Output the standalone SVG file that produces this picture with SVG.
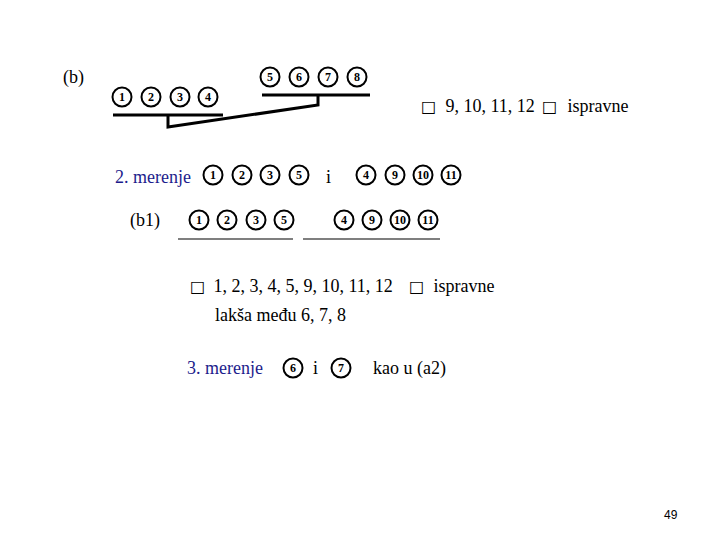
<svg xmlns="http://www.w3.org/2000/svg" width="720" height="540" viewBox="0 0 720 540">
<style>
text{font-family:"Liberation Serif","Times New Roman",serif;fill:#000}
.t{font-size:18px}
.blue{fill:#1c1c8c}
.n{font-size:12px;font-weight:bold;text-anchor:middle}
.c{fill:#fff;stroke:#000;stroke-width:2}
.sym{font-family:"DejaVu Sans","Liberation Serif",sans-serif;font-size:16px}
.thick{stroke:#000;stroke-width:3;fill:none}
.thin{stroke:#000;stroke-width:1.2;fill:none}
.pg{font-family:"Liberation Sans",Arial,sans-serif;font-size:12px}
</style>
<defs>
<circle id="ball" r="9.5" class="c"/>
</defs>
<rect width="720" height="540" fill="#fff"/>

<g id="connectors">
<line x1="113" y1="115" x2="223" y2="115" class="thick"/>
<line x1="262" y1="95" x2="370" y2="95" class="thick"/>
<polyline points="168,115 168,127 318,105 318,95" class="thick"/>
<line x1="178" y1="239" x2="293" y2="239" class="thin"/>
<line x1="303" y1="239" x2="440" y2="239" class="thin"/>
</g>

<g id="label-b"><text class="t" x="63" y="83">(b)</text></g>

<g id="balls-1-4">
<use href="#ball" x="122" y="97"/><text class="n" x="122" y="101">1</text>
<use href="#ball" x="151" y="97"/><text class="n" x="151" y="101">2</text>
<use href="#ball" x="180" y="97"/><text class="n" x="180" y="101">3</text>
<use href="#ball" x="208" y="97"/><text class="n" x="208" y="101">4</text>
</g>

<g id="balls-5-8">
<use href="#ball" x="270" y="77"/><text class="n" x="270" y="81">5</text>
<use href="#ball" x="299" y="77"/><text class="n" x="299" y="81">6</text>
<use href="#ball" x="328" y="77"/><text class="n" x="328" y="81">7</text>
<use href="#ball" x="357" y="77"/><text class="n" x="357" y="81">8</text>
</g>

<g id="result1">
<text class="t" y="112"><tspan class="sym" x="421">□</tspan><tspan x="441"> 9, 10, 11, 12</tspan><tspan class="sym" x="542">□</tspan><tspan x="563"> ispravne</tspan></text>
</g>

<g id="merenje2">
<text class="t blue" x="115" y="183">2. merenje</text>
<use href="#ball" x="213" y="175"/><text class="n" x="213" y="179">1</text>
<use href="#ball" x="242" y="175"/><text class="n" x="242" y="179">2</text>
<use href="#ball" x="270" y="175"/><text class="n" x="270" y="179">3</text>
<use href="#ball" x="299" y="175"/><text class="n" x="299" y="179">5</text>
<text class="t" x="326" y="183">i</text>
<use href="#ball" x="366" y="175"/><text class="n" x="366" y="179">4</text>
<use href="#ball" x="395" y="175"/><text class="n" x="395" y="179">9</text>
<use href="#ball" x="423" y="175"/><text class="n" x="423" y="179">10</text>
<use href="#ball" x="451" y="175"/><text class="n" x="451" y="179">11</text>
</g>

<g id="b1">
<text class="t" x="130" y="226">(b1)</text>
<use href="#ball" x="199" y="220"/><text class="n" x="199" y="224">1</text>
<use href="#ball" x="227" y="220"/><text class="n" x="227" y="224">2</text>
<use href="#ball" x="256" y="220"/><text class="n" x="256" y="224">3</text>
<use href="#ball" x="284" y="220"/><text class="n" x="284" y="224">5</text>
<use href="#ball" x="344" y="220"/><text class="n" x="344" y="224">4</text>
<use href="#ball" x="372" y="220"/><text class="n" x="372" y="224">9</text>
<use href="#ball" x="400" y="220"/><text class="n" x="400" y="224">10</text>
<use href="#ball" x="428" y="220"/><text class="n" x="428" y="224">11</text>
</g>

<g id="result2">
<text class="t" y="292"><tspan class="sym" x="190">□</tspan><tspan x="209"> 1, 2, 3, 4, 5, 9, 10, 11, 12</tspan><tspan class="sym" x="409">□</tspan><tspan x="429"> ispravne</tspan></text>
<text class="t" x="215" y="321">lakša među 6, 7, 8</text>
</g>

<g id="merenje3">
<text class="t blue" x="187" y="374">3. merenje</text>
<use href="#ball" x="293" y="368"/><text class="n" x="293" y="372">6</text>
<text class="t" x="313" y="374">i</text>
<use href="#ball" x="341" y="368"/><text class="n" x="341" y="372">7</text>
<text class="t" x="373" y="374">kao u (a2)</text>
</g>

<g id="page"><text class="pg" x="664" y="519">49</text></g>
</svg>
